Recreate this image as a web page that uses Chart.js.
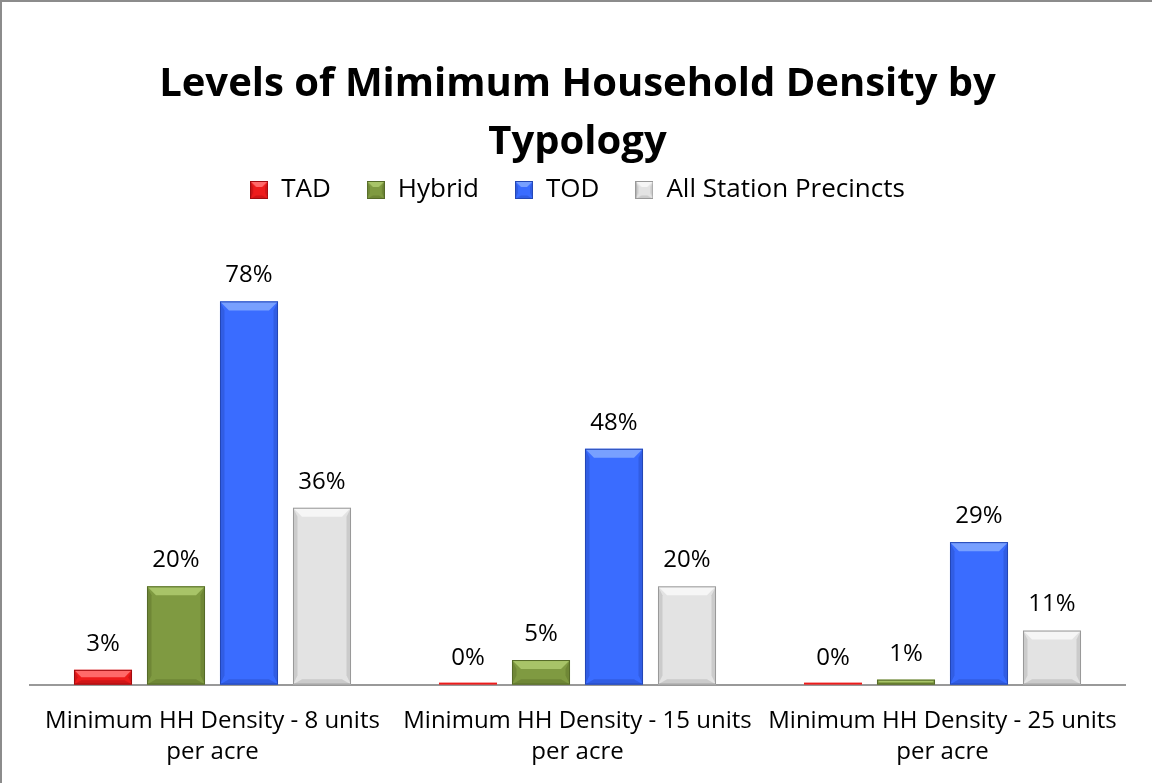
<!DOCTYPE html>
<html><head><meta charset="utf-8">
<script src="https://cdn.jsdelivr.net/npm/chart.js@4/dist/chart.umd.min.js"></script>
<style>
html,body{margin:0;padding:0;background:#fff;overflow:hidden;}
#wrap{position:absolute;left:0;top:0;width:1150px;height:781px;border-left:2px solid #8c8c8c;border-top:2px solid #8c8c8c;overflow:hidden;}
canvas{display:block;}
</style></head>
<body><div id="wrap"><canvas id="c" width="1150" height="781"></canvas></div>
<script>
const categories = [
  ["Minimum HH Density - 8 units", "per acre"],
  ["Minimum HH Density - 15 units", "per acre"],
  ["Minimum HH Density - 25 units", "per acre"]
];
const seriesNames = ["TAD", "Hybrid", "TOD", "All Station Precincts"];
const tadValues = [3, 0, 0];
const hybridValues = [20, 5, 1];
const todValues = [78, 48, 29];
const allValues = [36, 20, 11];
const titleLines = ["Levels of Mimimum Household Density by", "Typology"];

const fills   = ["#EE1C1C", "#7F9A41", "#3A6CFF", "#E3E3E3"];
const lights  = ["#FF6A6A", "#A8C468", "#78A0FF", "#F6F6F6"];
const darks   = ["#B81014", "#62782E", "#2A52CC", "#B8B8B8"];
const borders = ["#A00C10", "#556A28", "#2447B5", "#999999"];
const FONT = "'Open Sans', Lato, sans-serif";

function bevel(ctx, l, t, r, b, i, bw) {
  const h = b - t;
  if (h <= 0.5) {
    ctx.fillStyle = fills[i];
    ctx.fillRect(l, b - 2, r - l, 2);
    return;
  }
  const e = Math.min(bw, h / 2, (r - l) / 2);
  ctx.fillStyle = fills[i];
  ctx.fillRect(l, t, r - l, h);
  ctx.fillStyle = lights[i];
  ctx.beginPath(); ctx.moveTo(l, t); ctx.lineTo(r, t); ctx.lineTo(r - e, t + e); ctx.lineTo(l + e, t + e); ctx.closePath(); ctx.fill();
  ctx.fillStyle = darks[i];
  ctx.globalAlpha = 0.55;
  ctx.beginPath(); ctx.moveTo(l, t); ctx.lineTo(l + e * 0.5, t + e); ctx.lineTo(l + e * 0.5, b - e); ctx.lineTo(l, b); ctx.closePath(); ctx.fill();
  ctx.beginPath(); ctx.moveTo(r, t); ctx.lineTo(r - e * 0.5, t + e); ctx.lineTo(r - e * 0.5, b - e); ctx.lineTo(r, b); ctx.closePath(); ctx.fill();
  ctx.beginPath(); ctx.moveTo(l, b); ctx.lineTo(r, b); ctx.lineTo(r - e, b - e * 0.6); ctx.lineTo(l + e, b - e * 0.6); ctx.closePath(); ctx.fill();
  ctx.globalAlpha = 1;
  ctx.strokeStyle = borders[i];
  ctx.lineWidth = 1;
  ctx.strokeRect(l + 0.5, t + 0.5, r - l - 1, h - 1);
}

const bevelPlugin = {
  id: 'bevelBars',
  afterDatasetsDraw(chart) {
    const ctx = chart.ctx;
    ctx.save();
    chart.data.datasets.forEach((ds, i) => {
      const meta = chart.getDatasetMeta(i);
      meta.data.forEach((bar) => {
        const l = bar.x - bar.width / 2, r = bar.x + bar.width / 2;
        bevel(ctx, l, bar.y, r, bar.base, i, 9);
      });
    });
    ctx.font = "24px " + FONT;
    ctx.fillStyle = "#000";
    ctx.textAlign = "center";
    ctx.textBaseline = "middle";
    chart.data.datasets.forEach((ds, i) => {
      const meta = chart.getDatasetMeta(i);
      meta.data.forEach((bar, j) => {
        ctx.fillText(Math.round(ds.data[j]) + "%", bar.x, bar.y - 26);
      });
    });
    ctx.restore();
  }
};

const legendMarker = (i) => {
  const c = document.createElement('canvas');
  c.width = 18; c.height = 18;
  bevel(c.getContext('2d'), 0, 0, 18, 18, i, 6);
  return c;
};

const datasets = [tadValues, hybridValues, todValues, allValues].map((vals, i) => ({
  label: seriesNames[i],
  data: vals,
  backgroundColor: "rgba(0,0,0,0)",
  borderWidth: 0,
  categoryPercentage: 0.80,
  barPercentage: 0.795
}));

new Chart(document.getElementById('c'), {
  type: 'bar',
  data: { labels: categories, datasets },
  plugins: [bevelPlugin],
  options: {
    responsive: false,
    animation: false,
    layout: { padding: { left: 28, right: 27, top: 54, bottom: -6 } },
    plugins: {
      title: {
        display: true,
        text: titleLines,
        color: "#000",
        font: { family: FONT, size: 40, weight: "bold", lineHeight: 1.45 },
        padding: { top: 0, bottom: -31 }
      },
      legend: {
        position: 'top',
        labels: {
          color: "#000",
          font: { family: FONT, size: 26 },
          boxWidth: 18, boxHeight: 18,
          padding: 36,
          usePointStyle: true,
          generateLabels(chart) {
            return chart.data.datasets.map((ds, i) => ({
              text: ds.label, pointStyle: legendMarker(i), datasetIndex: i,
              fontColor: "#000", hidden: false, lineWidth: 0
            }));
          }
        }
      },
      tooltip: { enabled: false }
    },
    scales: {
      x: {
        grid: { display: false, drawTicks: false },
        border: { display: true, color: "#999999", width: 2 },
        ticks: { color: "#000", font: { family: FONT, size: 24, lineHeight: 1.3 }, padding: 21, maxRotation: 0 }
      },
      y: {
        display: false,
        min: 0, max: 96
      }
    }
  }
});
</script>
</body></html>
